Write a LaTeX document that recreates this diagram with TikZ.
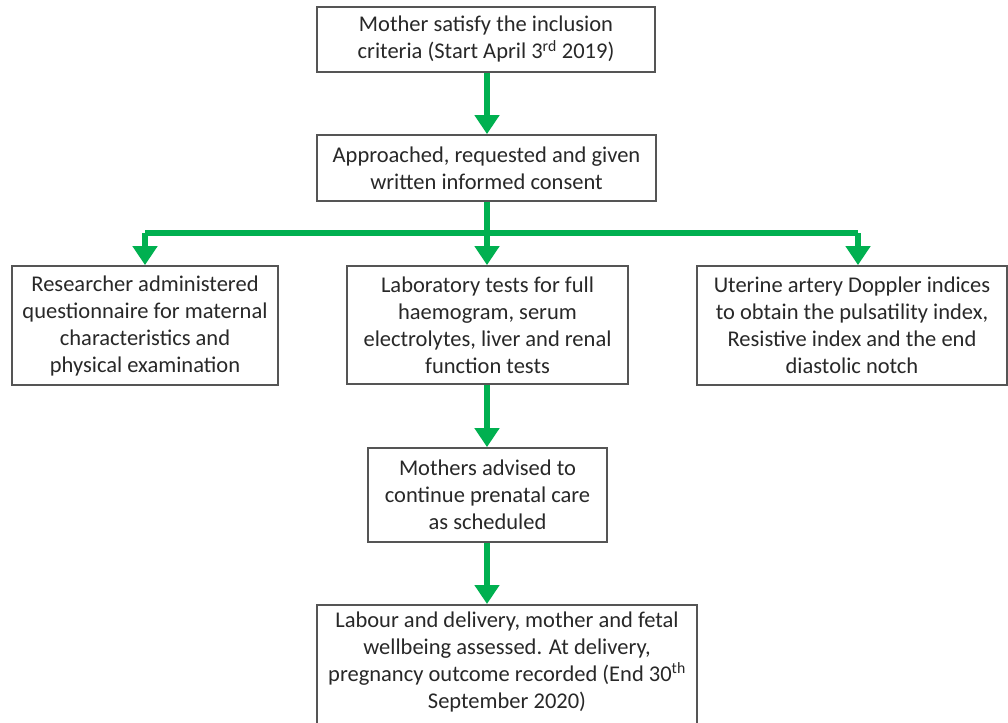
\documentclass[tikz,border=0pt]{standalone}
\usepackage{fontspec}
\setmainfont{Carlito}
\usetikzlibrary{arrows.meta}
\definecolor{flowgreen}{RGB}{0,176,80}
\definecolor{boxline}{RGB}{85,85,85}
\definecolor{boxtext}{RGB}{40,40,40}
\begin{document}
\begin{tikzpicture}[x=1pt,y=-1pt,
  box/.style={draw=boxline, line width=1.8pt, fill=white, inner sep=0pt,
    align=center, text=boxtext,
    font=\fontsize{22.5}{27}\selectfont},
  txt/.style={align=center, text=boxtext, inner sep=0pt,
    font=\fontsize{22.5}{27}\selectfont},
  flow/.style={draw=flowgreen, line width=6.5pt},
  flowarrow/.style={flow, -{Triangle[width=24pt,length=19pt]}}]
\clip (0,0) rectangle (1008,722);
\fill[white] (0,0) rectangle (1008,722);

% process boxes
\node[box, minimum width=338, minimum height=65] (b1) at (486,39.5)
  {Mother satisfy the inclusion\\criteria (Start April 3\textsuperscript{rd} 2019)};
\node[box, minimum width=339, minimum height=66] (b2) at (486.5,168)
  {Approached, requested and given\\written informed consent};
\node[box, minimum width=266, minimum height=119] (b3) at (145,325.5)
  {Researcher administered\\questionnaire for maternal\\characteristics and\\physical examination};
\node[box, minimum width=281, minimum height=118] (b4) at (487.5,325)
  {Laboratory tests for full\\haemogram, serum\\electrolytes, liver and renal\\function tests};
\node[box, minimum width=310, minimum height=119] (b5) at (852,325.5)
  {Uterine artery Doppler indices\\to obtain the pulsatility index,\\Resistive index and the end\\diastolic notch};
\node[box, minimum width=239, minimum height=94] (b6) at (487.5,495)
  {Mothers advised to\\continue prenatal care\\as scheduled};
\node[box, minimum width=380, minimum height=135, anchor=north] (b7) at (507,604) {};
\node[txt] (b7text) at (507,662)
  {Labour and delivery, mother and fetal\\wellbeing assessed. At delivery,\\pregnancy outcome recorded (End 30\textsuperscript{th}\\September 2020)};

% connectors
\coordinate (split) at (487,233);
\draw[flowarrow] (b1.south -| 487,0) -- (b2.north -| 487,0);
\draw[flow] (b2.south -| 487,0) -- (split);
\draw[flow] (145,233) -- (858,233);
\draw[flowarrow] (split) -- (b4.north -| 487,0);
\draw[flowarrow] (split -| b3.north) -- (b3.north);
\draw[flowarrow] (split -| 858,0) -- (b5.north -| 858,0);
\draw[flowarrow] (b4.south -| 487,0) -- (b6.north -| 487,0);
\draw[flowarrow] (b6.south -| 487,0) -- (b7.north -| 487,0);
\end{tikzpicture}
\end{document}
